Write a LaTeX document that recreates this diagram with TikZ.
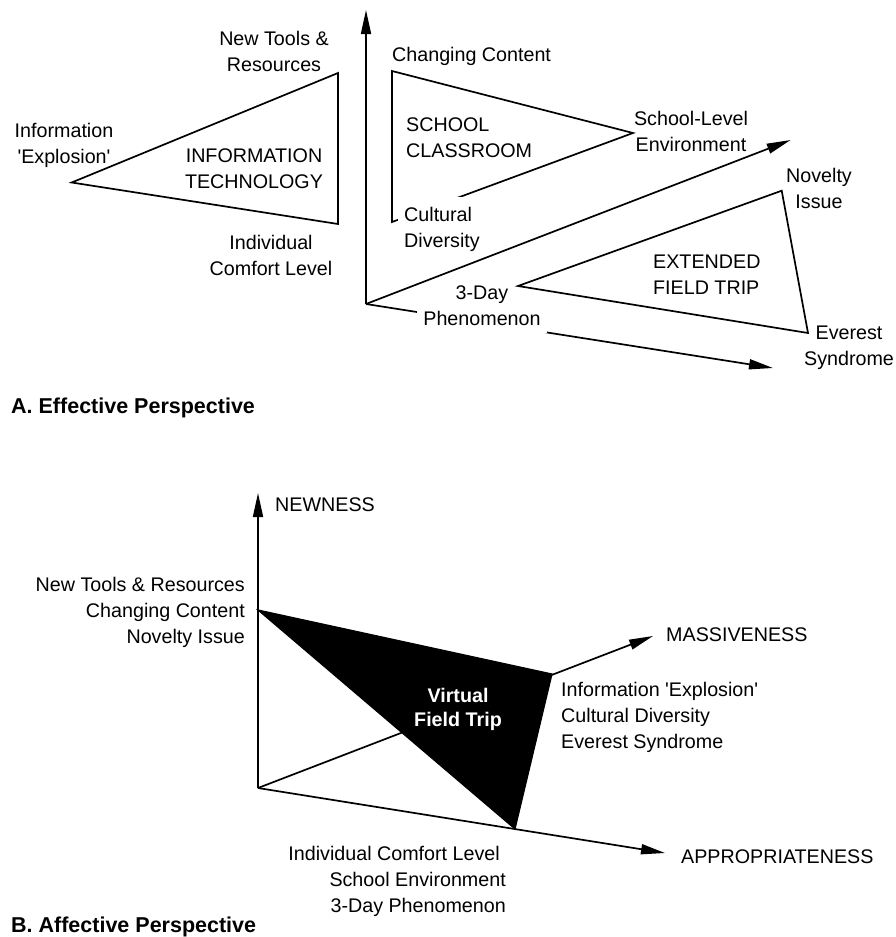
\documentclass[tikz,border=0pt]{standalone}
\usepackage{fontspec}
\setmainfont{Liberation Sans}
\usetikzlibrary{arrows.meta}
\newcommand{\sqt}{\textquotesingle}
\begin{document}
\begin{tikzpicture}[x=1pt,y=-1pt,
  lbl/.style={inner sep=0pt, font=\fontsize{19.7}{25.7}\selectfont},
  ttl/.style={inner sep=0pt, font=\fontsize{21.5}{26}\selectfont\bfseries, anchor=base west},
  edge/.style={line width=1.7pt, line join=miter},
  axis/.style={line width=1.7pt, -{Triangle[length=24pt,width=10pt]}},
  mask/.style={fill=white, inner xsep=6pt, inner ysep=8pt}
]
\useasboundingbox (0,0) rectangle (896,937);

% ---------- A. Effective Perspective ----------
% Information technology triangle
\coordinate (it1) at (71.7,182.5);
\coordinate (it2) at (338,73);
\coordinate (it3) at (338,224);
\draw[edge] (it1) -- (it2) -- (it3) -- cycle;
% (multi-line nodes: base anchor = baseline of last line)
\node[lbl, align=center, anchor=base] (ntr) at (274,71) {New Tools \&\\Resources};
\node[lbl, align=center, anchor=base] (ie) at (64,163) {Information\\\sqt Explosion\sqt};
\node[lbl, align=center, anchor=base] (itx) at (254,188) {INFORMATION\\TECHNOLOGY};
\node[lbl, align=center, anchor=base] (icl) at (271,275) {Individual\\Comfort Level};

% axes
\coordinate (o1) at (366,304);
\coordinate (ytop) at (366,10);
\coordinate (xdiag) at (790.7,140);
\coordinate (xlow) at (773,368);
\draw[axis] (o1) -- (ytop);
\draw[axis] (o1) -- (xlow);

% school classroom triangle
\coordinate (sc1) at (392,71);
\coordinate (sc2) at (633,133);
\coordinate (sc3) at (392,222);
\draw[edge] (sc1) -- (sc2) -- (sc3) -- cycle;
\node[lbl, anchor=base west] (cc) at (392,61) {Changing Content};
\node[lbl, align=left, anchor=base west] (scl) at (406,157) {SCHOOL\\CLASSROOM};
\node[lbl, align=center, anchor=base] (sle) at (691,151) {School-Level\\Environment};
\node[lbl, mask, inner ysep=10pt, align=left, anchor=base west, xshift=-6pt] (cd) at (404,247) {Cultural\\Diversity};

% 3-day label masks the lower axis
\node[lbl, mask, align=center, anchor=base] (tdp) at (482,325) {3-Day\\Phenomenon};

\draw[axis] (o1) -- (xdiag);

% extended field trip triangle
\coordinate (ef1) at (518,286);
\coordinate (ef2) at (781.7,190.7);
\coordinate (ef3) at (808,333);
\draw[edge] (ef1) -- (ef2) -- (ef3) -- cycle;
\node[lbl, align=center, anchor=base] (nov) at (819,208) {Novelty\\Issue};
\node[lbl, align=left, anchor=base west] (eft) at (653,294) {EXTENDED\\FIELD TRIP};
\node[lbl, align=center, anchor=base] (evs) at (849,365) {Everest\\Syndrome};

\node[ttl] (tA) at (11,413) {A. Effective Perspective};

% ---------- B. Affective Perspective ----------
\coordinate (o2) at (258,788);
\coordinate (ntop) at (258,493);
\coordinate (mtip) at (653,636);
\coordinate (atip) at (665,853);
\draw[axis] (o2) -- (ntop);
\draw[axis] (o2) -- (mtip);
\draw[axis] (o2) -- (atip);

\coordinate (v1) at (258,610);
\coordinate (v2) at (552,674);
\coordinate (v3) at (515,829);
\fill[black, draw=black, line width=1.2pt, line join=miter] (v1) -- (v2) -- (v3) -- cycle;

\node[lbl, anchor=base west] (newn) at (275,511) {NEWNESS};
\node[lbl, anchor=base west] (mass) at (666,641) {MASSIVENESS};
\node[lbl, anchor=base west] (appr) at (681,863) {APPROPRIATENESS};
\node[lbl, text=white, font=\fontsize{19.7}{24}\selectfont\bfseries, align=center, anchor=base] (vft) at (458,726) {Virtual\\Field Trip};
\node[lbl, align=right, anchor=base east] (newl) at (245,643) {New Tools \& Resources\\Changing Content\hspace*{6pt}\\Novelty Issue};
\node[lbl, align=left, anchor=base west] (masl) at (561,748) {Information \sqt Explosion\sqt\\Cultural Diversity\\Everest Syndrome};
\node[lbl, align=right, anchor=base east] (apl) at (506,912) {Individual Comfort Level\hspace*{6pt}\\School Environment\hspace*{2pt}\\3-Day Phenomenon};

\node[ttl] (tB) at (11,932) {B. Affective Perspective};
\end{tikzpicture}
\end{document}
